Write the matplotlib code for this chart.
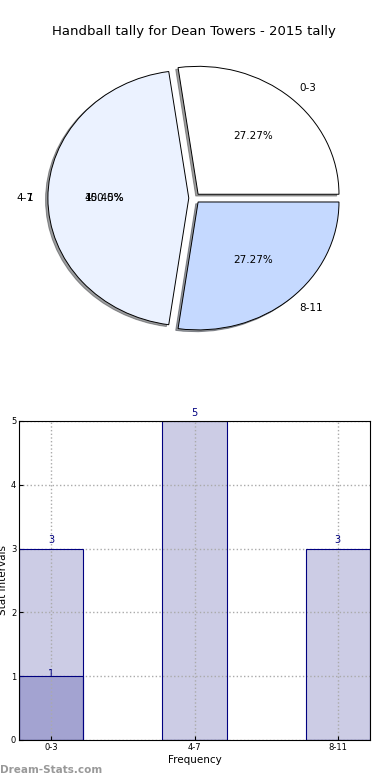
import matplotlib.pyplot as plt

title = "Handball tally for Dean Towers - 2015 tally"
categories = ['0-3', '4-7', '8-11']
counts = [3, 5, 3]
inner_counts = [1, 0, 0]
pie_colors = ['#FFFFFF', '#EBF2FF', '#C5D9FF']
extra_label = '1'
extra_pct = '100.0%'


def main():
    fig = plt.figure(figsize=(3.9, 7.8), dpi=100)

    # pie on top
    ax1 = fig.add_axes([0.047, 0.541, 0.903, 0.410])
    wedges, texts, autotexts = ax1.pie(
        counts, labels=categories, colors=pie_colors, autopct='%.2f%%',
        explode=[0.04] * len(counts),
        shadow={'ox': -0.012, 'oy': -0.01, 'shade': 0.75},
        startangle=0,
        wedgeprops={'edgecolor': 'black', 'linewidth': 0.7},
        textprops={'fontsize': 7.5})
    ax1.set_aspect('auto')
    ax1.set_xlim(-1.25, 1.25)
    ax1.set_ylim(-1.25, 1.25)
    # leftover texts drawn on top of the middle slice
    t = texts[1]
    ax1.text(*t.get_position(), extra_label, ha=t.get_ha(), va=t.get_va(), fontsize=7.5)
    a = autotexts[1]
    ax1.text(*a.get_position(), extra_pct, ha='center', va='center', fontsize=7.5)
    ax1.set_title(title, fontsize=9.5, pad=1)

    # bars below: faces under the grid, outlines over it
    ax2 = fig.add_axes([0.0487, 0.0513, 0.9003, 0.409])
    x = list(range(len(categories)))
    width = 0.45
    ax2.bar(x, counts, width, color='#CCCCE5', linewidth=0, zorder=1)
    ax2.bar(x, inner_counts, width, color='#A3A3D1', linewidth=0, zorder=1.1)
    ax2.bar(x, counts, width, fill=False, edgecolor='#000080', linewidth=0.8, zorder=3)
    ax2.bar(x, inner_counts, width, fill=False, edgecolor='#000080', linewidth=0.8, zorder=3)
    for i in range(len(x)):
        ax2.text(x[i], counts[i] + 0.05, str(counts[i]), ha='center', va='bottom',
                 color='#000080', fontsize=7)
        if inner_counts[i] > 0:
            ax2.text(x[i], inner_counts[i] - 0.05, str(inner_counts[i]), ha='center',
                     va='bottom', color='#000080', fontsize=7)
    ax2.set_xlim(-width / 2, x[-1] + width / 2)
    ax2.set_ylim(0, 5)
    ax2.set_xticks(x)
    ax2.set_xticklabels(categories)
    ax2.set_yticks(range(6))
    ax2.tick_params(labelsize=6, direction='in', length=3, pad=2)
    ax2.grid(True, linestyle=':', color='#aaaaaa', linewidth=1, zorder=2)
    ax2.set_axisbelow(False)
    for ln in ax2.get_xgridlines() + ax2.get_ygridlines():
        ln.set_zorder(2)
    for sp in ax2.spines.values():
        sp.set_zorder(5)
    ax2.set_xlabel('Frequency', fontsize=7.5, labelpad=2)
    ax2.set_ylabel('Stat Intervals', fontsize=7.5, labelpad=2)

    fig.text(0.0, 0.007, 'Dream-Stats.com', color='#999999', fontsize=7.5,
             fontweight='bold', ha='left', va='bottom')

    fig.savefig('out.png', dpi=100)


if __name__ == '__main__':
    main()
